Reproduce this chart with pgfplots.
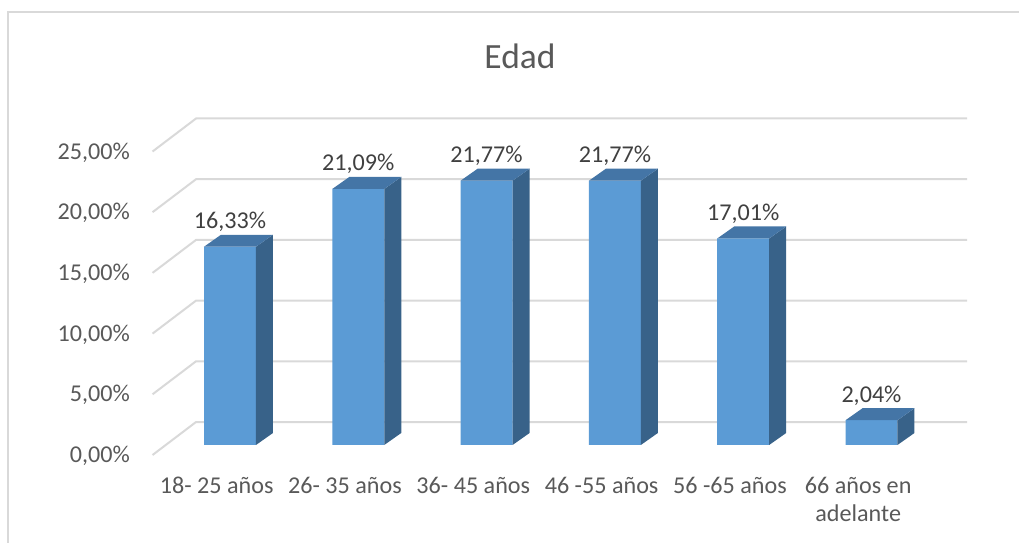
\documentclass[border=0pt]{standalone}
\usepackage{pgfplots}
\pgfplotsset{compat=1.18}
\usepackage{pgfplotstable}
\usepackage{fontspec}
\setmainfont{Carlito}
\definecolor{front}{RGB}{91,155,213}
\definecolor{topc}{RGB}{68,117,166}
\definecolor{sidec}{RGB}{56,98,137}
\definecolor{gridc}{RGB}{217,217,217}
\definecolor{txt}{RGB}{89,89,89}
\definecolor{lbl}{RGB}{64,64,64}

\pgfplotstableread{
x v
0 16.33
1 21.09
2 21.77
3 21.77
4 17.01
5 2.04
}\data

\begin{document}
\begin{tikzpicture}[x=0.75pt,y=0.75pt]
\path[use as bounding box] (0,0) rectangle (1019,542);
\draw[gridc, line width=1.5pt] (8,-5) -- (8,530) -- (1030,530);
\node[txt, font=\fontsize{26.6}{32}\selectfont] at (520,486) {Edad};
\begin{axis}[
 at={(114.41pt,65.25pt)}, anchor=south west,
 x=96.225pt, y=9.105pt,
 xmin=-0.5, xmax=5.5, ymin=-0.824, ymax=24.176,
 clip=false,
 axis line style={draw=none},
 major tick length=0pt,
 ytick={-0.824,4.176,9.176,14.176,19.176,24.176},
 yticklabels={{0,00\%},{5,00\%},{10,00\%},{15,00\%},{20,00\%},{25,00\%}},
 xtick={0,...,5},
 xticklabels={18- 25 años,26- 35 años,36- 45 años,46 -55 años,56 -65 años,{66 años en\\adelante}},
 ticklabel style={font=\fontsize{18.1}{21}\selectfont, text=txt, inner sep=0pt},
 xticklabel style={anchor=north, align=center, yshift=-16.5pt},
 yticklabel style={anchor=base east, xshift=-16.9pt, yshift=-5.7pt},
 /pgf/number format/assume math mode=true,
]
\pgfplotsinvokeforeach{0,5,10,15,20,25}{
  \pgfmathsetmacro\ga{#1-0.824}
  \pgfmathsetmacro\gb{#1+1.894}
  \addplot[gridc, line width=1.5pt] coordinates {(-0.5,\ga) (-0.161,\gb) (5.848,\gb)};
}
\addplot[ybar, bar width=38.97pt, bar shift=9.96pt, fill=front, draw=none,
  nodes near coords={\pgfmathprintnumber[fixed,fixed zerofill,precision=2,use comma]{\pgfplotspointmeta}\%},
  nodes near coords style={anchor=base, xshift=9.96pt, yshift=13.5pt, text=lbl, font=\fontsize{18.1}{21}\selectfont},
  point meta=explicit] table[x=x,y=v,meta=v] {\data};
\pgfplotsinvokeforeach{0,...,5}{
  \pgfplotstablegetelem{#1}{v}\of\data
  \pgfmathsetmacro\vv{\pgfplotsretval}
  \pgfmathsetmacro\vb{\vv+0.988}
  \pgfmathsetmacro\xl{#1-0.099}
  \pgfmathsetmacro\xr{#1+0.306}
  \pgfmathsetmacro\xlb{#1+0.0335}
  \pgfmathsetmacro\xrb{#1+0.4385}
  \addplot[fill=sidec, draw=none] coordinates {(\xr,0) (\xrb,0.988) (\xrb,\vb) (\xr,\vv)};
  \addplot[fill=topc, draw=none] coordinates {(\xl,\vv) (\xr,\vv) (\xrb,\vb) (\xlb,\vb)};
}
\end{axis}
\end{tikzpicture}
\end{document}
